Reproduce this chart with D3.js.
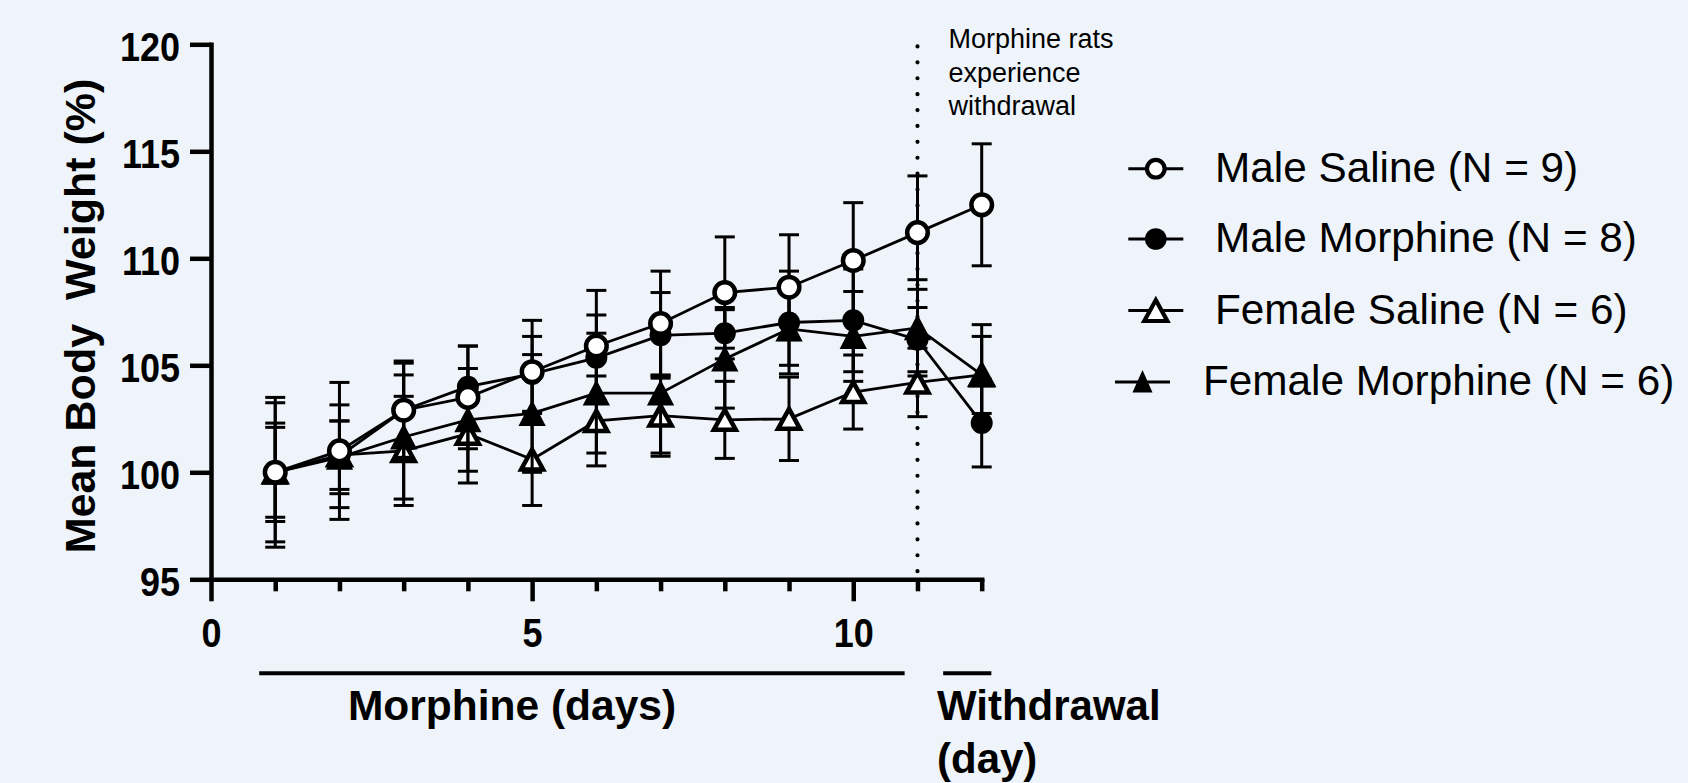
<!DOCTYPE html>
<html>
<head>
<meta charset="utf-8">
<script src="https://cdn.jsdelivr.net/npm/d3@7/dist/d3.min.js"></script>
<style>
body { margin: 0; background: #eef4f9; }
svg { display: block; font-family: "Liberation Sans", Arial, sans-serif; }
</style>
</head>
<body>
<svg id="chart" width="1688" height="783"></svg>
<script>
let days = [1, 2, 3, 4, 5, 6, 7, 8, 9, 10, 11, 12];

let maleSaline = [100.0, 101.0, 102.9, 103.5, 104.7, 105.9, 106.95, 108.4, 108.65, 109.9, 111.2, 112.5];
let maleSalineErr = [3.5, 3.2, 2.3, 2.4, 2.4, 2.6, 2.45, 2.6, 2.45, 2.7, 2.65, 2.85];

let maleMorphine = [100.0, 100.75, 102.9, 104.0, 104.6, 105.35, 106.4, 106.5, 107.0, 107.1, 106.2, 102.3];
let maleMorphineErr = [3.25, 2.4, 2.2, 1.9, 1.75, 2.0, 2.0, 1.2, 2.4, 2.4, 1.5, 2.05];

let femaleSaline = [100.0, 100.8, 101.0, 101.8, 100.6, 102.4, 102.65, 102.45, 102.5, 103.75, 104.2, 104.55];
let femaleSalineErr = [2.3, 1.6, 2.55, 2.3, 2.15, 2.1, 1.9, 1.8, 1.95, 1.73, 1.6, 1.8];

let femaleMorphine = [100.0, 100.7, 101.65, 102.45, 102.75, 103.7, 103.7, 105.3, 106.7, 106.35, 106.75, 104.55];
let femaleMorphineErr = [2.1, 1.7, 2.9, 2.4, 2.75, 2.8, 2.8, 2.3, 1.7, 2.1, 2.25, 2.35];

let legendLabels = ["Male Saline (N = 9)", "Male Morphine (N = 8)", "Female Saline (N = 6)", "Female Morphine (N = 6)"];

let yTicks = [95, 100, 105, 110, 115, 120];
let xMajor = [0, 5, 10];
let xMinor = [1, 2, 3, 4, 6, 7, 8, 9, 11, 12];

let withdrawalDay = 11;
let noteLines = ["Morphine rats", "experience", "withdrawal"];

let periods = [
	{start: 0.75, end: 10.8},
	{start: 11.4, end: 12.15}
];

let svg = d3.select("#chart");

let x = d3.scaleLinear().domain([0, 12]).range([211, 981.7]);
let y = d3.scaleLinear().domain([95, 120]).range([579.3, 44.3]);

let series = [
	{label: legendLabels[0], mean: maleSaline, err: maleSalineErr, shape: "circle", filled: false},
	{label: legendLabels[1], mean: maleMorphine, err: maleMorphineErr, shape: "circle", filled: true},
	{label: legendLabels[2], mean: femaleSaline, err: femaleSalineErr, shape: "triangle", filled: false},
	{label: legendLabels[3], mean: femaleMorphine, err: femaleMorphineErr, shape: "triangle", filled: true}
];

function drawMarker(g, shape, filled, cx, cy, size) {
	if (shape == "circle") {
		if (filled) {
			g.append("circle").attr("cx", cx).attr("cy", cy).attr("r", size.fr).attr("fill", "#000");
		} else {
			g.append("circle").attr("cx", cx).attr("cy", cy).attr("r", size.r)
				.attr("fill", "#fff").attr("stroke", "#000").attr("stroke-width", size.sw);
		}
	} else {
		let w = filled ? size.fw : size.w;
		let h = filled ? size.fh : size.h;
		let pts = [[cx, cy - h / 2], [cx + w / 2, cy + h / 2], [cx - w / 2, cy + h / 2]];
		g.append("path").attr("d", "M" + pts.join("L") + "Z")
			.attr("fill", filled ? "#000" : "#fff")
			.attr("stroke", "#000")
			.attr("stroke-width", filled ? 2 : size.sw)
			.attr("stroke-linejoin", "miter");
	}
}

let plotSize = {r: 10.3, fr: 11, sw: 4.5, w: 22, h: 20, fw: 24, fh: 23};
let legendSize = {r: 8.8, fr: 10.8, sw: 4.2, w: 23, h: 21, fw: 17, fh: 19};

// dotted withdrawal marker
svg.append("line")
	.attr("x1", x(withdrawalDay)).attr("x2", x(withdrawalDay))
	.attr("y1", y(119.9)).attr("y2", y(95))
	.attr("stroke", "#000").attr("stroke-width", 4.2)
	.attr("stroke-linecap", "round").attr("stroke-dasharray", "0,15.9");

let note = svg.append("text")
	.attr("x", x(withdrawalDay) + 31).attr("y", 48)
	.attr("font-size", 27).attr("fill", "#000");
noteLines.forEach((t, i) => {
	note.append("tspan").attr("x", x(withdrawalDay) + 31).attr("y", 48 + i * 33.5).text(t);
});

// axes
let yAxis = svg.append("g")
	.attr("transform", `translate(${x(0)},0)`)
	.call(d3.axisLeft(y).tickValues(yTicks).tickSize(21).tickSizeOuter(0));
yAxis.attr("font-family", null).attr("font-size", null);
yAxis.select(".domain").attr("stroke-width", 4.5).attr("stroke-linecap", "square");
yAxis.selectAll(".tick line").attr("stroke-width", 4.5);
yAxis.selectAll(".tick text")
	.attr("x", -31 / 0.9).attr("dy", "0.4em")
	.attr("transform", "scale(0.9,1)")
	.attr("font-size", 40).attr("font-weight", "bold").attr("fill", "#000");

let xAxisMinor = svg.append("g")
	.attr("transform", `translate(0,${y(95)})`)
	.call(d3.axisBottom(x).tickValues(xMinor).tickSize(12).tickSizeOuter(0).tickFormat(""));
xAxisMinor.select(".domain").remove();
xAxisMinor.selectAll(".tick line").attr("stroke-width", 4.5);

let xAxis = svg.append("g")
	.attr("transform", `translate(0,${y(95)})`)
	.call(d3.axisBottom(x).tickValues(xMajor).tickSize(22).tickSizeOuter(0));
xAxis.attr("font-family", null).attr("font-size", null);
xAxis.select(".domain").attr("stroke-width", 4.5).attr("stroke-linecap", "square");
xAxis.selectAll(".tick line").attr("stroke-width", 4.5);
xAxis.selectAll(".tick text")
	.attr("y", 68).attr("dy", null)
	.attr("transform", "scale(0.9,1)")
	.attr("font-size", 40).attr("font-weight", "bold").attr("fill", "#000");

// series, drawn back to front
let order = [2, 3, 1, 0];
order.forEach(i => {
	let s = series[i];
	let pts = days.map((d, j) => ({day: d, v: s.mean[j], e: s.err[j]}));
	let g = svg.append("g");

	pts.forEach(p => {
		let px = x(p.day);
		let top = y(p.v + p.e);
		let bot = y(p.v - p.e);
		g.append("line").attr("x1", px).attr("x2", px).attr("y1", top).attr("y2", bot)
			.attr("stroke", "#000").attr("stroke-width", 3);
		[top, bot].forEach(cy => {
			g.append("line").attr("x1", px - 10).attr("x2", px + 10).attr("y1", cy).attr("y2", cy)
				.attr("stroke", "#000").attr("stroke-width", 3);
		});
	});

	let line = d3.line().x(d => x(d.day)).y(d => y(d.v));
	g.append("path").datum(pts).attr("d", line)
		.attr("fill", "none").attr("stroke", "#000").attr("stroke-width", 2.8);

	pts.forEach(p => drawMarker(g, s.shape, s.filled, x(p.day), y(p.v), plotSize));
});

// axis titles
svg.append("text")
	.attr("transform", "translate(95,316) rotate(-90)")
	.attr("text-anchor", "middle")
	.attr("font-size", 43).attr("font-weight", "bold")
	.style("white-space", "pre")
	.text("Mean Body  Weight (%)");

periods.forEach(p => {
	svg.append("line")
		.attr("x1", x(p.start)).attr("x2", x(p.end))
		.attr("y1", 673.3).attr("y2", 673.3)
		.attr("stroke", "#000").attr("stroke-width", 4);
});

svg.append("text")
	.attr("x", 512).attr("y", 720)
	.attr("text-anchor", "middle")
	.attr("font-size", 42.5).attr("font-weight", "bold")
	.text("Morphine (days)");

let wd = svg.append("text")
	.attr("font-size", 42).attr("font-weight", "bold");
wd.append("tspan").attr("x", 937).attr("y", 720).text("Withdrawal");
wd.append("tspan").attr("x", 937).attr("y", 773).text("(day)");

// legend
let legendRows = [
	{textX: 1215, cx: 1155.8, base: 181.7},
	{textX: 1215, cx: 1155.8, base: 252},
	{textX: 1215, cx: 1155.8, base: 323.5},
	{textX: 1203, cx: 1142.5, base: 395}
];

let legend = svg.append("g");
series.forEach((s, i) => {
	let row = legendRows[i];
	let cy = row.base - 13;
	legend.append("line")
		.attr("x1", row.cx - 27.5).attr("x2", row.cx + 27.5)
		.attr("y1", cy).attr("y2", cy)
		.attr("stroke", "#000").attr("stroke-width", 3);
	drawMarker(legend, s.shape, s.filled, row.cx, cy, legendSize);
	legend.append("text")
		.attr("x", row.textX).attr("y", row.base)
		.attr("font-size", 42.3).attr("fill", "#000")
		.text(s.label);
});
</script>
</body>
</html>
